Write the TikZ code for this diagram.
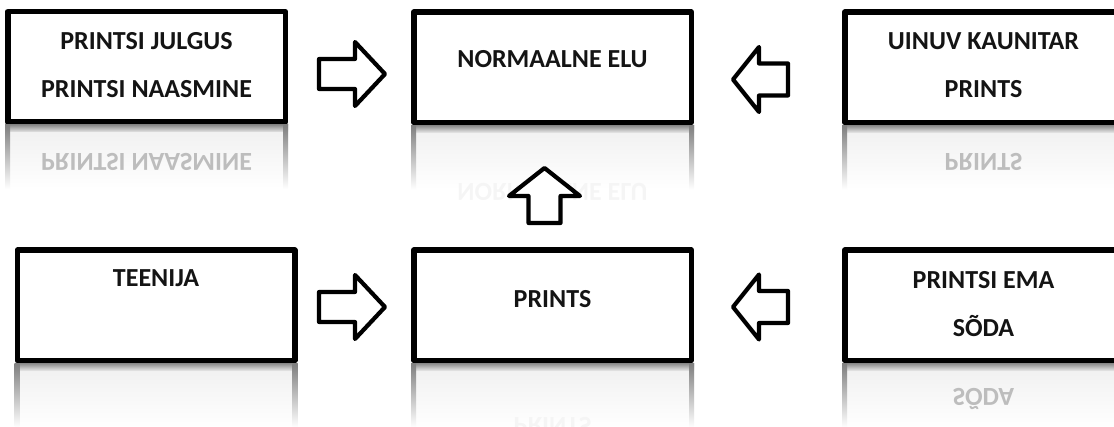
\documentclass[tikz,border=0pt]{standalone}
\usepackage{fontspec}
\setmainfont{Carlito}
\usetikzlibrary{calc}
\begin{document}
\begin{tikzpicture}[x=1pt,y=-1pt,
  box/.style={draw=black, line width=5.5pt, line join=round, fill=white,
    inner sep=0pt, minimum width=277.5pt, minimum height=110.5pt},
  lbl/.style={font=\fontsize{26}{48}\selectfont\bfseries, anchor=base,
    inner sep=0pt, text=black!92},
  refl/.style={font=\fontsize{26}{48}\selectfont\bfseries, anchor=base,
    inner sep=0pt, yscale=-1},
  blockarrow/.style={draw=black, line width=4.2pt, line join=round, fill=white},
  rarrow/.pic={\draw[blockarrow] (-33,-15) -- (3,-15) -- (3,-32) -- (33,0)
    -- (3,32) -- (3,15) -- (-33,15) -- cycle;},
  larrow/.pic={\draw[blockarrow] (27.5,-16) -- (-1.5,-16) -- (-1.5,-32.5)
    -- (-27.5,0) -- (-1.5,32.5) -- (-1.5,16) -- (27.5,16) -- cycle;},
  uarrow/.pic={\draw[blockarrow] (-16,27) -- (-16,0) -- (-35.5,0) -- (0,-28)
    -- (35.5,0) -- (16,0) -- (16,27) -- cycle;},
]
\useasboundingbox (0,0) rectangle (1114,427);
\clip (0,0) rectangle (1114,427);

% boxes
\node[box] (tl) at (146.5,67) {};
\node[box] (tm) at (552.5,67.5) {};
\node[box] (tr) at (983.5,67.5) {};
\node[box] (bl) at (156,305.5) {};
\node[box] (bm) at (552.5,305.5) {};
\node[box] (br) at (983.5,305.5) {};

% mirrored reflections under every box
\foreach \b in {tl,tm,tr,bl,bm,br}{
  \shade[top color=black!6, bottom color=white]
    (\b.south west) rectangle ($(\b.south east)+(0,64)$);
  \shade[top color=black!45, bottom color=black!10]
    (\b.south west) rectangle ($(\b.south east)+(0,7)$);
  \shade[top color=black!50, bottom color=white]
    (\b.south west) rectangle ($(\b.south west)+(5,64)$);
  \shade[top color=black!50, bottom color=white]
    ($(\b.south east)+(-5,0)$) rectangle ($(\b.south east)+(0,64)$);
}
\node[refl, text=black!26] (tlr) at (146.5,154) {PRINTSI NAASMINE};
\node[refl, text=black!4]  (tmr) at (552.5,184) {NORMAALNE ELU};
\node[refl, text=black!26] (trr) at (983.5,154) {PRINTS};
\node[refl, text=black!4]  (bmr) at (552.5,418) {PRINTS};
\node[refl, text=black!26] (brr) at (983.5,389) {SÕDA};

% box texts
\node[lbl] (t1) at (146.5,50) {PRINTSI JULGUS};
\node[lbl] (t2) at (146.5,98) {PRINTSI NAASMINE};
\node[lbl] (t3) at (552.5,68) {NORMAALNE ELU};
\node[lbl] (t4) at (983.5,50) {UINUV KAUNITAR};
\node[lbl] (t5) at (983.5,98) {PRINTS};
\node[lbl] (t6) at (156,287) {TEENIJA};
\node[lbl] (t7) at (552.5,308) {PRINTS};
\node[lbl] (t8) at (983.5,289) {PRINTSI EMA};
\node[lbl] (t9) at (983.5,337) {SÕDA};

% block arrows between the boxes
\coordinate (a1) at (352,74);
\coordinate (a2) at (760.5,79.5);
\coordinate (a3) at (544.5,196);
\coordinate (a4) at (352,307);
\coordinate (a5) at (760.5,307);
\pic at (a1) {rarrow};
\pic at (a2) {larrow};
\pic at (a3) {uarrow};
\pic at (a4) {rarrow};
\pic at (a5) {larrow};
\end{tikzpicture}
\end{document}
